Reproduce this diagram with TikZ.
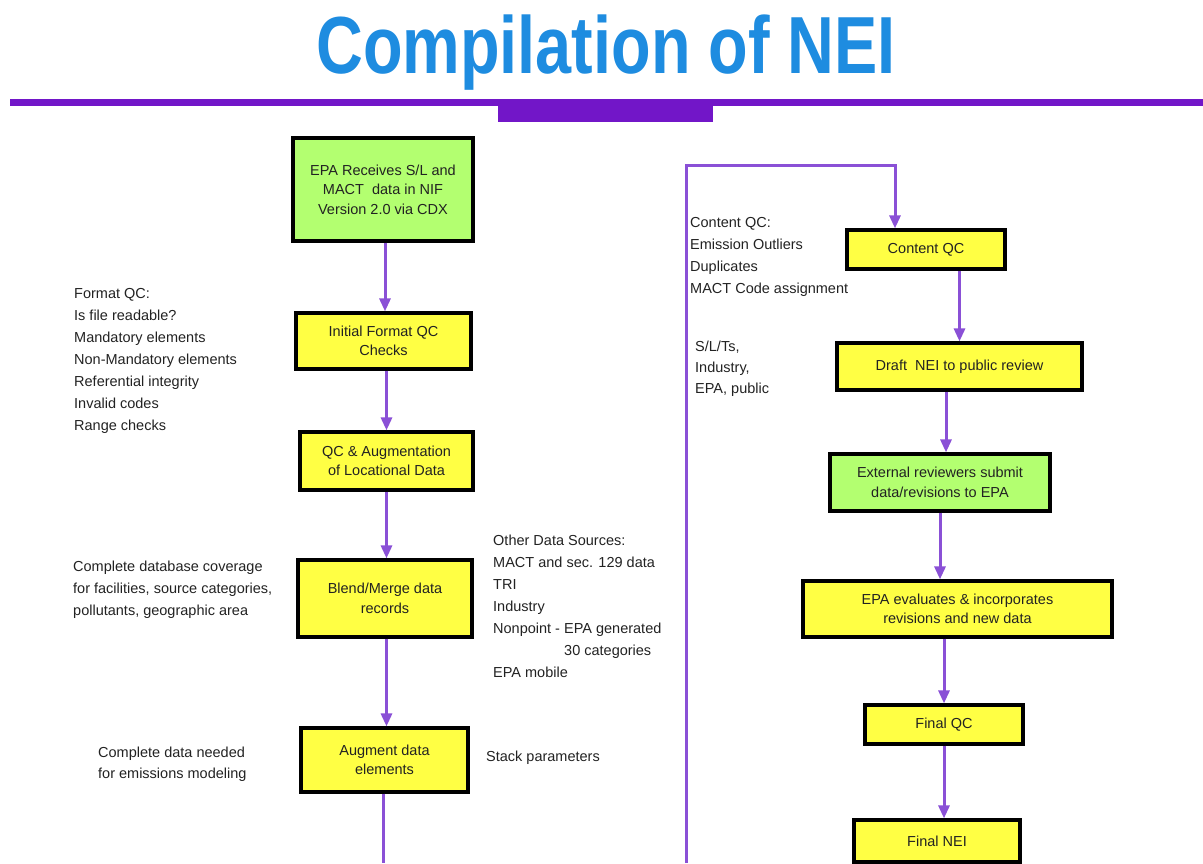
\documentclass[tikz,border=0pt]{standalone}
\usepackage{fontspec}
\setmainfont{Liberation Sans}
\usepackage{tikz}
\usetikzlibrary{arrows.meta, positioning, calc}
\definecolor{neiblue}{HTML}{1E8CE0}
\definecolor{neipurple}{HTML}{7216C8}
\definecolor{neiflow}{HTML}{8A50D6}
\definecolor{neigreen}{HTML}{B3FF70}
\definecolor{neiyellow}{HTML}{FFFF44}
\definecolor{neitext}{HTML}{222222}

\begin{document}
\begin{tikzpicture}[
    x=1pt, y=-1pt,
    stage/.style={rectangle, draw=black, line width=3.2pt, fill=#1, inner sep=2pt, align=center, font=\fontsize{14.5}{19.5}\selectfont, text=neitext},
    note/.style={anchor=north west, inner sep=0pt, align=left, font=\fontsize{14.5}{22}\selectfont, text=neitext},
    link/.style={line width=3pt, color=neiflow},
    arrow/.style={link, -{Triangle[length=13pt, width=11pt]}}
]
\useasboundingbox (0,0) rectangle (1203,863);

% Title and header bar
\node[anchor=base, text=neiblue] (title) at (606,73) {\scalebox{0.8}[1]{\fontsize{81}{81}\selectfont\bfseries Compilation of NEI}};
\fill[neipurple] (10,99) rectangle (1203,106);
\fill[neipurple] (498,106) rectangle (713,122);

% Left column
\node[stage=neigreen, minimum width=180pt, minimum height=103pt] (recv) at (383,189.5) {EPA Receives S/L and\\MACT\ \ data in NIF\\Version 2.0 via CDX};
\node[stage=neiyellow, minimum width=175pt, minimum height=56pt] (initqc) at (383.5,341) {Initial Format QC\\Checks};
\node[stage=neiyellow, minimum width=173pt, minimum height=58pt] (locqc) at (386.5,461) {QC \& Augmentation\\of Locational Data};
\node[stage=neiyellow, minimum width=174pt, minimum height=77pt] (blend) at (385,598.5) {Blend/Merge data\\records};
\node[stage=neiyellow, minimum width=167pt, minimum height=64pt] (augment) at (384.5,760) {Augment data\\elements};
\coordinate (leftend) at (383,863);

% Right column
\node[stage=neiyellow, minimum width=158pt, minimum height=39pt] (contqc) at (926,249.5) {Content QC};
\node[stage=neiyellow, minimum width=245pt, minimum height=47pt] (draft) at (959.5,366.5) {Draft\ \ NEI to public review};
\node[stage=neigreen, minimum width=220pt, minimum height=57pt] (extrev) at (940,482.5) {External reviewers submit\\data/revisions to EPA};
\node[stage=neiyellow, minimum width=309pt, minimum height=56pt] (epaeval) at (957.5,609) {EPA evaluates \& incorporates\\revisions and new data};
\node[stage=neiyellow, minimum width=158pt, minimum height=39pt] (finalqc) at (944,724.5) {Final QC};
\node[stage=neiyellow, minimum width=166pt, minimum height=42pt] (finalnei) at (937,841) {Final NEI};
\coordinate (loopstart) at (686,863);

% Notes
\node[note] (fmtnote) at (74,288) {Format QC:\\Is file readable?\\Mandatory elements\\Non-Mandatory elements\\Referential integrity\\Invalid codes\\Range checks};
\node[note] (covernote) at (73,561) {Complete database coverage\\for facilities, source categories,\\pollutants, geographic area};
\node[note, font=\fontsize{14.5}{21}\selectfont] (needednote) at (98,747) {Complete data needed\\for emissions modeling};
\node[note] (srcnote) at (493,535) {Other Data Sources:\\MACT and sec. 129 data\\TRI\\Industry\\Nonpoint - EPA generated\\\hspace*{71pt}30 categories\\EPA mobile};
\node[note] (stacknote) at (486,751) {Stack parameters};
\node[note] (contnote) at (690,217) {Content QC:\\Emission Outliers\\Duplicates\\MACT Code assignment};
\node[note, font=\fontsize{14.5}{21}\selectfont] (reviewnote) at (695,341) {S/L/Ts,\\Industry,\\EPA, public};

% Flow, left
\draw[arrow] ([xshift=2pt]recv.south) -- ([xshift=2pt]recv.south |- initqc.north);
\draw[arrow] (locqc.north |- initqc.south) -- (locqc.north);
\draw[arrow] (locqc.south) -- (locqc.south |- blend.north);
\draw[arrow] (locqc.south |- blend.south) -- (locqc.south |- augment.north);
\draw[link] (leftend |- augment.south) -- (leftend);

% Flow, right
\draw[arrow] (loopstart) |- ($(contqc.north)+(-31,-63)$) -- ([xshift=-31pt]contqc.north);
\draw[arrow] (draft.north |- contqc.south) -- (draft.north);
\draw[arrow] ([xshift=6pt]extrev.north |- draft.south) -- ([xshift=6pt]extrev.north);
\draw[arrow] (extrev.south) -- (extrev.south |- epaeval.north);
\draw[arrow] (finalqc.north |- epaeval.south) -- (finalqc.north);
\draw[arrow] (finalqc.south) -- (finalqc.south |- finalnei.north);

\end{tikzpicture}
\end{document}
